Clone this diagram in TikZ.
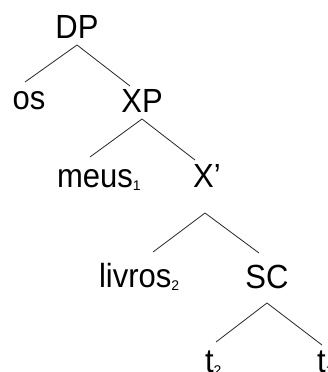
\documentclass[tikz,border=0pt]{standalone}
\usepackage{graphicx}
\usepackage{fontspec}
\setmainfont{Liberation Sans}
\usetikzlibrary{calc}
\newcommand{\idx}[1]{\raisebox{-3pt}{\fontsize{14}{16}\selectfont #1}}
\newcommand{\tall}[1]{\scalebox{1}[1.08]{#1}}
\begin{document}
\begin{tikzpicture}[x=1pt,y=-1pt,
  lbl/.style={inner sep=0pt,outer sep=0pt,font=\fontsize{31}{36}\selectfont},
  branch/.style={line width=0.8pt,draw=black!85}]
\useasboundingbox (0,0) rectangle (327,372);
\begin{scope}
\clip (0,0) rectangle (327,372);
% category labels and words, placed on their baselines
\node[lbl,anchor=base] (dp) at (77,38) {\tall{DP}};
\node[lbl,anchor=base] (os) at (29,109) {\tall{os}};
\node[lbl,anchor=base] (xp) at (142,112) {\tall{XP}};
\node[lbl,anchor=base west] (meus) at (57,187) {\tall{meus}\idx{1}};
\node[lbl,anchor=base] (xbar) at (207,187) {\tall{X'}};
\node[lbl,anchor=base west] (livros) at (99,287) {\tall{livros}\idx{2}};
\node[lbl,anchor=base] (sc) at (267,288) {\tall{SC}};
\node[lbl,anchor=base west] (t2) at (205,372) {\tall{t}\idx{2}};
\node[lbl,anchor=base west] (t1) at (317,372) {\tall{t}\idx{1}};
% branches
\draw[branch] ($(os.base)+(-4,-27)$) -- ($(dp.base)+(0,7)$) -- ($(xp.base)+(-12,-26)$);
\draw[branch] ($(meus.base west)+(33,-30)$) -- ($(xp.base)+(0,7)$) -- ($(xbar.base)+(-12,-27)$);
\draw[branch] ($(livros.base west)+(54,-35)$) -- ($(xbar.base)+(-2,26)$) -- ($(sc.base)+(-8,-35)$);
\draw[branch] ($(t2.base west)+(11,-30)$) -- ($(sc.base)+(0,15)$) -- ($(t1.base west)+(5,-27)$);
\end{scope}
\end{tikzpicture}
\end{document}
